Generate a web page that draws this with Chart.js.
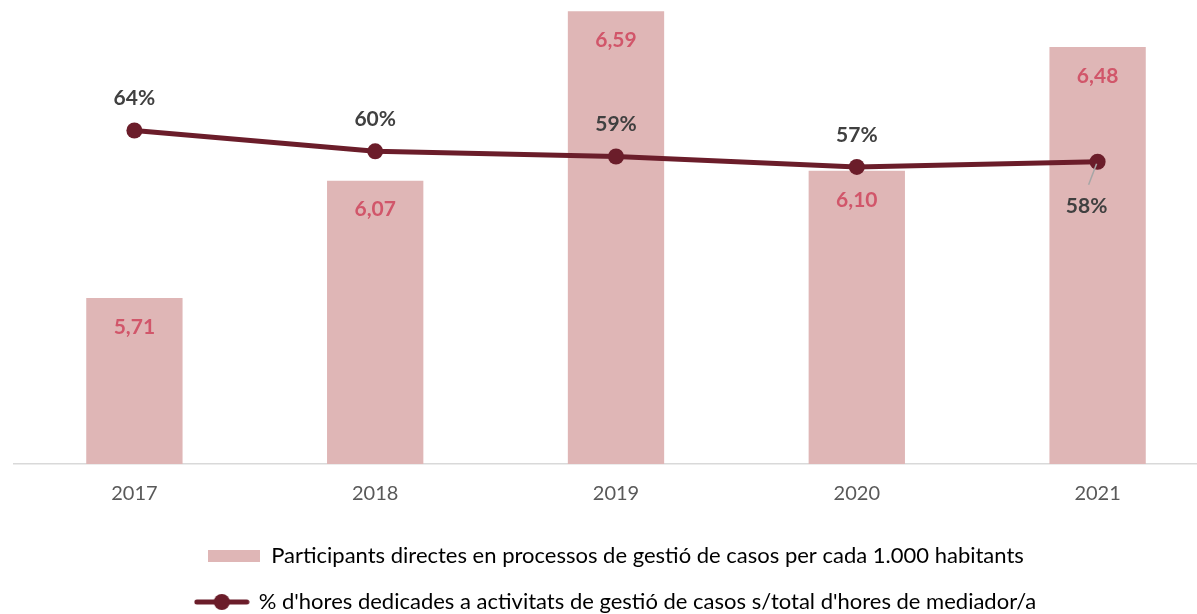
<!DOCTYPE html>
<html>
<head>
<meta charset="utf-8">
<script src="https://cdn.jsdelivr.net/npm/chart.js@4.4.1/dist/chart.umd.min.js"></script>
<style>
  html, body { margin: 0; padding: 0; background: #ffffff; overflow: hidden; }
  #wrap { position: absolute; left: 0; top: 0; width: 1226px; height: 623px; }
</style>
</head>
<body>
<div id="wrap"><canvas id="c" width="1226" height="623"></canvas></div>
<script>
const categories = ['2017', '2018', '2019', '2020', '2021'];
const participants = [5.71, 6.07, 6.59, 6.10, 6.48];
const hoursShare = [0.64, 0.60, 0.59, 0.57, 0.58];
const barLabel = 'Participants directes en processos de gestió de casos per cada 1.000 habitants';
const lineLabel = "% d'hores dedicades a activitats de gestió de casos s/total d'hores de mediador/a";

const BAR_COLOR = '#DFB6B6';
const LINE_COLOR = '#6B1D2A';
const BAR_LABEL_COLOR = '#D1566A';
const LINE_LABEL_COLOR = '#404040';
const TEXT_COLOR = '#595959';
const FONT = 'Lato, "Open Sans", sans-serif';

function makeBarSwatch() {
  const c = document.createElement('canvas');
  c.width = 52; c.height = 14;
  const g = c.getContext('2d');
  g.fillStyle = BAR_COLOR;
  g.fillRect(0, 1, 52, 12);
  return c;
}
function makeLineSwatch() {
  const c = document.createElement('canvas');
  c.width = 56; c.height = 20;
  const g = c.getContext('2d');
  g.strokeStyle = LINE_COLOR;
  g.lineWidth = 5;
  g.lineCap = 'round';
  g.beginPath(); g.moveTo(3, 10); g.lineTo(53, 10); g.stroke();
  g.fillStyle = LINE_COLOR;
  g.beginPath(); g.arc(28, 10, 8, 0, Math.PI * 2); g.fill();
  return c;
}

const labelPlugin = {
  id: 'valueLabels',
  afterDatasetsDraw(chart) {
    const ctx = chart.ctx;
    ctx.save();
    ctx.textAlign = 'center';
    ctx.textBaseline = 'middle';
    ctx.font = 'bold 21px ' + FONT;
    const barMeta = chart.getDatasetMeta(0);
    barMeta.data.forEach((el, i) => {
      ctx.fillStyle = BAR_LABEL_COLOR;
      ctx.fillText(participants[i].toFixed(2).replace('.', ','), el.x, el.y + 29);
    });
    const lineMeta = chart.getDatasetMeta(1);
    lineMeta.data.forEach((el, i) => {
      const txt = Math.round(hoursShare[i] * 100) + '%';
      ctx.fillStyle = LINE_LABEL_COLOR;
      if (i === hoursShare.length - 1) {
        ctx.strokeStyle = '#A6A6A6';
        ctx.lineWidth = 1.5;
        ctx.beginPath();
        ctx.moveTo(el.x - 1, el.y + 2);
        ctx.lineTo(el.x - 9, el.y + 23);
        ctx.stroke();
        ctx.fillText(txt, el.x - 11, el.y + 44);
      } else {
        ctx.fillText(txt, el.x, el.y - 32);
      }
    });
    ctx.restore();
  }
};

new Chart(document.getElementById('c'), {
  data: {
    labels: categories,
    datasets: [
      {
        type: 'bar',
        label: barLabel,
        data: participants,
        backgroundColor: BAR_COLOR,
        barPercentage: 0.4,
        categoryPercentage: 1,
        yAxisID: 'y',
        order: 2
      },
      {
        type: 'line',
        label: lineLabel,
        data: hoursShare,
        borderColor: LINE_COLOR,
        backgroundColor: LINE_COLOR,
        borderWidth: 5,
        pointRadius: 8,
        pointHoverRadius: 8,
        pointBackgroundColor: LINE_COLOR,
        pointBorderWidth: 0,
        tension: 0,
        yAxisID: 'y2',
        order: 1
      }
    ]
  },
  options: {
    responsive: false,
    animation: false,
    events: [],
    layout: { padding: { top: 7, left: 14, right: 0, bottom: 0 } },
    scales: {
      x: {
        grid: { display: false, drawTicks: false },
        border: { display: true, color: '#D9D9D9', width: 1.5 },
        ticks: { color: TEXT_COLOR, font: { family: FONT, size: 20 }, padding: 18 },
        afterFit(axis) { axis.height = 57; }
      },
      y: {
        display: false,
        min: 5.2,
        max: 6.6
      },
      y2: {
        display: false,
        position: 'right',
        min: 0,
        max: 0.875
      }
    },
    plugins: {
      tooltip: { enabled: false },
      legend: {
        position: 'bottom',
        fullSize: false,
        labels: {
          color: TEXT_COLOR,
          font: { family: FONT, size: 22 },
          usePointStyle: true,
          pointStyleWidth: 52,
          padding: 24,
          generateLabels() {
            return [
              { text: barLabel, pointStyle: makeBarSwatch(), fillStyle: BAR_COLOR, strokeStyle: BAR_COLOR, lineWidth: 0, datasetIndex: 0, hidden: false },
              { text: lineLabel, pointStyle: makeLineSwatch(), fillStyle: LINE_COLOR, strokeStyle: LINE_COLOR, lineWidth: 0, datasetIndex: 1, hidden: false }
            ];
          }
        }
      }
    }
  },
  plugins: [labelPlugin]
});
</script>
</body>
</html>
